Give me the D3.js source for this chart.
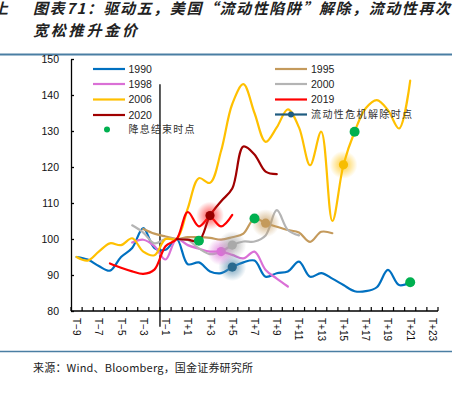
<!DOCTYPE html>
<html>
<head>
<meta charset="utf-8">
<script src="https://cdn.jsdelivr.net/npm/d3@7"></script>
<style>
  body { margin:0; background:#fff; }
  svg { display:block; }
</style>
</head>
<body>
<div id="canvas"></div>
<script>
// chart data
var categories = ["T-9","T-8","T-7","T-6","T-5","T-4","T-3","T-2","T-1","T0",
  "T+1","T+2","T+3","T+4","T+5","T+6","T+7","T+8","T+9","T+10","T+11","T+12",
  "T+13","T+14","T+15","T+16","T+17","T+18","T+19","T+20","T+21","T+22","T+23"];
var tickLabels = ["T-9","T-7","T-5","T-3","T-1","T+1","T+3","T+5","T+7","T+9","T+11",
  "T+13","T+15","T+17","T+19","T+21","T+23"];
var yTicks = [80,90,100,110,120,130,140,150];

var s1990 = [95,94.3,92.5,91.2,95,97.5,103,97.5,97,100,93,93.5,91,90.5,92.2,93.5,94,89.5,
  90.5,91,93.7,89.5,90.5,89,87.2,85.5,85.5,86.6,91.4,87.2,88,null,null];
var s1995 = [null,null,null,null,null,null,102.8,101.5,100.7,100,100.5,100.5,100.3,99.8,100.5,
  101.5,105.7,104.4,103.4,102.5,101.8,99.2,102,101.6,null,null,null,null,null,null,null,null,null];
var s1998 = [null,null,null,null,null,99,99.8,98,94.3,100,98.3,97.3,96.5,96.5,95.6,94.6,96.5,
  91.4,89,86.8,null,null,null,null,null,null,null,null,null,null,null,null,null];
var s2000 = [null,null,null,null,null,103.8,101.8,98.8,100,100,99.7,97.4,95.8,96.5,98.3,99.3,
  99.3,101,108,102.5,101,null,null,null,null,null,null,null,null,null,null,null,null];
var s2006 = [95,94,96.5,98.8,98.3,100.2,96.5,95.5,100,100,108.5,116.9,115.6,124.5,137.5,143,
  135,127,131,136,131,120.5,129.8,105,120.6,129.8,136.3,138.6,135.8,130.7,144,null,null];
var s2019 = [null,null,null,93.2,92,91,90.3,91.5,98,100,107.5,103.5,106,103.5,106.7,null,null,
  null,null,null,null,null,null,null,null,null,null,null,null,null,null,null,null];
var s2020 = [null,null,null,null,null,null,null,null,null,100,99.8,99.5,106.5,110.5,114,125.7,
  123.5,118.7,118,null,null,null,null,null,null,null,null,null,null,null,null,null,null];

var seriesNames = ["1990","1995","1998","2000","2006","2019","2020"];
var seriesValues = [s1990,s1995,s1998,s2000,s2006,s2019,s2020];
var seriesColors = ["#0070C0","#C49A5C","#DA70D6","#B4B4B4","#FFC000","#FF0000","#A00000"];

// 降息结束时点
var cutEndSeries = ["2020","1995","2006","1990"];
var cutEndCats = ["T+2","T+7","T+16","T+21"];
// 流动性危机解除时点
var reliefSeries = ["1990","1998","2000","1995","2006","2020"];
var reliefCats = ["T+5","T+4","T+5","T+8","T+15","T+3"];
var reliefFill = ["#2A6A8E","#DA70D6","#A9A9A9","#C49A5C","#F7BD00","#990000"];
var reliefGlow = ["#4F88AA","#DA70D6","#A0A0A0","#C49A5C","#FFC000","#FF2020"];

// vertical marker line (before T-1)
var vLineCat = "T-1", vLineTop = 143, vLineBottom = 75.6;

var W = 460, H = 399;
var m = {t:59, r:22, b:88, l:71};

var svg = d3.select('#canvas').append('svg')
  .attr('width',W).attr('height',H);
var defs = svg.append('defs');

// title + rules
var titleFont = function(sel){
  sel.style('font-family','"Noto Sans CJK SC"').style('font-size','15px')
    .style('font-style','italic').style('font-weight','bold').attr('fill','#222');
};
svg.append('text').attr('x',-7).attr('y',14).call(titleFont).text('上');
svg.append('text').attr('x',33).attr('y',14)
  .attr('textLength',417).attr('lengthAdjust','spacing')
  .call(titleFont).text('图表71：驱动五，美国“流动性陷阱”解除，流动性再次');
svg.append('text').attr('x',33).attr('y',36)
  .attr('textLength',104).attr('lengthAdjust','spacing')
  .call(titleFont).text('宽松推升金价');
svg.append('line').attr('x1',0).attr('x2',452).attr('y1',54.5).attr('y2',54.5)
  .attr('stroke','#4A7EA3').attr('stroke-width',2);
svg.append('line').attr('x1',0).attr('x2',452).attr('y1',351.5).attr('y2',351.5)
  .attr('stroke','#4A7EA3').attr('stroke-width',1.5);
svg.append('text').attr('x',33).attr('y',372)
  .attr('textLength',220).attr('lengthAdjust','spacing')
  .style('font-family','"Noto Sans CJK SC"').style('font-size','11px')
  .attr('fill','#222').text('来源：Wind、Bloomberg，国金证券研究所');

// scales
var scaleX = d3.scaleBand().domain(categories).range([m.l, W - m.r]).padding(0);
var cx = function(c){ return scaleX(c) + scaleX.bandwidth()/2; };
var scaleY = d3.scaleLinear().domain([80,150]).range([H - m.b, m.t]);

// axes
var axisY = d3.axisLeft(scaleY).tickValues(yTicks).tickSizeInner(-3).tickSizeOuter(0).tickPadding(12);
var gy = svg.append('g').attr('transform','translate(' + m.l + ',0)').call(axisY);
gy.select('.domain').attr('stroke','#000').attr('stroke-width',1.3);
gy.selectAll('.tick line').attr('stroke','#000').attr('stroke-width',1.3);
gy.selectAll('.tick text').style('font-family','"Liberation Sans", Arial').style('font-size','10.5px').attr('fill','#111');

var gx = svg.append('g').attr('transform','translate(0,' + scaleY(80) + ')');
gx.append('line').attr('x1',m.l).attr('x2',W - m.r).attr('stroke','#000').attr('stroke-width',1.3);
gx.selectAll('.tk').data(categories.concat(['end'])).enter().append('line')
  .attr('class','tk')
  .attr('x1',function(d,i){ return i < categories.length ? scaleX(d) : W - m.r; })
  .attr('x2',function(d,i){ return i < categories.length ? scaleX(d) : W - m.r; })
  .attr('y1',0).attr('y2',-4).attr('stroke','#000').attr('stroke-width',1.2);
gx.selectAll('.lb').data(tickLabels).enter().append('text')
  .attr('class','lb')
  .attr('transform',function(d){ return 'translate(' + cx(d) + ',7) rotate(90)'; })
  .attr('dy','0.35em')
  .style('font-family','"Liberation Sans", Arial').style('font-size','10px')
  .attr('fill','#111')
  .text(function(d){ return d.replace('-','−'); });

// vertical reference line
var vx = scaleX(vLineCat);
svg.append('line').attr('x1',vx).attr('x2',vx)
  .attr('y1',scaleY(vLineTop)).attr('y2',scaleY(vLineBottom))
  .attr('stroke','#000').attr('stroke-width',1.3);

// lines
var line = d3.line()
  .defined(function(d){ return d.v != null; })
  .x(function(d){ return cx(d.c); })
  .y(function(d){ return scaleY(d.v); })
  .curve(d3.curveCatmullRom.alpha(0.5));

var plot = svg.append('g');
seriesNames.forEach(function(name,k){
  var pts = categories.map(function(c,i){ return {c:c, v:seriesValues[k][i]}; })
    .filter(function(d){ return d.v != null; });
  plot.append('path').datum(pts)
    .attr('d',line).attr('fill','none')
    .attr('stroke',seriesColors[k]).attr('stroke-width',2.2)
    .attr('stroke-linejoin','round').attr('stroke-linecap','round');
});

function valueOf(name,cat){
  return seriesValues[seriesNames.indexOf(name)][categories.indexOf(cat)];
}

// glow + relief markers
reliefSeries.forEach(function(name,i){
  var id = 'glow' + i;
  var g = defs.append('radialGradient').attr('id',id);
  g.append('stop').attr('offset','0%').attr('stop-color',reliefGlow[i]).attr('stop-opacity',0.75);
  g.append('stop').attr('offset','45%').attr('stop-color',reliefGlow[i]).attr('stop-opacity',0.45);
  g.append('stop').attr('offset','100%').attr('stop-color',reliefGlow[i]).attr('stop-opacity',0);
  var x = cx(reliefCats[i]), y = scaleY(valueOf(name,reliefCats[i]));
  plot.append('circle').attr('cx',x).attr('cy',y).attr('r',14).attr('fill','url(#' + id + ')');
  plot.append('circle').attr('cx',x).attr('cy',y).attr('r',4.6).attr('fill',reliefFill[i]);
});

// rate-cut end dots
cutEndSeries.forEach(function(name,i){
  plot.append('circle')
    .attr('cx',cx(cutEndCats[i]))
    .attr('cy',scaleY(valueOf(name,cutEndCats[i])))
    .attr('r',5).attr('fill','#00B050');
});

// legend
var leg = svg.append('g').style('font-size','10.5px');
var legLeft = [["1990","#0070C0"],["1998","#DA70D6"],["2006","#FFC000"],["2020","#A00000"]];
var legRight = [["1995","#C49A5C"],["2000","#B4B4B4"],["2019","#FF0000"]];
var legY = [69,84,99.5,115];
legLeft.forEach(function(d,i){
  leg.append('line').attr('x1',93).attr('x2',125).attr('y1',legY[i]).attr('y2',legY[i])
    .attr('stroke',d[1]).attr('stroke-width',2.2);
  leg.append('text').attr('x',128.5).attr('y',legY[i]).attr('dy','0.36em')
    .style('font-family','"Liberation Sans", Arial').attr('fill','#222').text(d[0]);
});
leg.append('circle').attr('cx',107).attr('cy',129.5).attr('r',3).attr('fill','#00B050');
leg.append('text').attr('x',128.5).attr('y',129.5).attr('dy','0.36em')
  .attr('textLength',66).attr('lengthAdjust','spacing')
  .style('font-family','"Noto Sans CJK SC"').style('font-size','10px').attr('fill','#333')
  .text('降息结束时点');
legRight.forEach(function(d,i){
  leg.append('line').attr('x1',275).attr('x2',307).attr('y1',legY[i]).attr('y2',legY[i])
    .attr('stroke',d[1]).attr('stroke-width',2.2);
  leg.append('text').attr('x',311).attr('y',legY[i]).attr('dy','0.36em')
    .style('font-family','"Liberation Sans", Arial').attr('fill','#222').text(d[0]);
});
leg.append('line').attr('x1',275).attr('x2',307).attr('y1',114.5).attr('y2',114.5)
  .attr('stroke','#1F5C80').attr('stroke-width',2.2);
leg.append('circle').attr('cx',291).attr('cy',114.5).attr('r',3).attr('fill','#1F5C80');
leg.append('text').attr('x',311).attr('y',114.5).attr('dy','0.36em')
  .attr('textLength',101).attr('lengthAdjust','spacing')
  .style('font-family','"Noto Sans CJK SC"').style('font-size','10px').attr('fill','#333')
  .text('流动性危机解除时点');
</script>
</body>
</html>
